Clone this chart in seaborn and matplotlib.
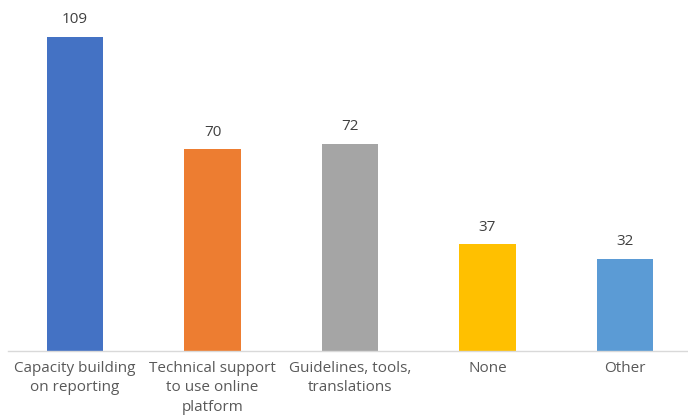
import matplotlib
matplotlib.use("Agg")
import matplotlib.pyplot as plt
import seaborn as sns
import pandas as pd

categories = ["Capacity building\non reporting", "Technical support\nto use online\nplatform",
              "Guidelines, tools,\ntranslations", "None", "Other"]
counts = [109, 70, 72, 37, 32]
colors = ["#4472C4", "#ED7D31", "#A5A5A5", "#FFC000", "#5B9BD5"]

df = pd.DataFrame({"category": categories, "count": counts})

sns.set_theme(style="white")
plt.rcParams["font.family"] = ["Open Sans", "DejaVu Sans"]

fig = plt.figure(figsize=(6.88, 4.15), dpi=100)
ax = fig.add_axes([8 / 688, (415 - 351) / 415, 680 / 688, 351 / 415])

sns.barplot(data=df, x="category", y="count", hue="category", palette=colors,
            width=0.41, legend=False, ax=ax, saturation=1, linewidth=0)

ax.set_xlim(-0.487, 4.458)
ax.set_ylim(0, 121.8)

for i, v in enumerate(counts):
    ax.text(i, v + 3.3, str(v), ha="center", va="bottom", fontsize=11, color="#404040")

for s in ["top", "right", "left"]:
    ax.spines[s].set_visible(False)
ax.spines["bottom"].set_color("#D9D9D9")
ax.spines["bottom"].set_linewidth(1)
ax.set_yticks([])
ax.set_xlabel("")
ax.set_ylabel("")
ax.tick_params(axis="x", length=0, pad=7, labelsize=11, labelcolor="#595959")
for lbl in ax.get_xticklabels():
    lbl.set_linespacing(1.4)

fig.savefig("out.png", dpi=100)
